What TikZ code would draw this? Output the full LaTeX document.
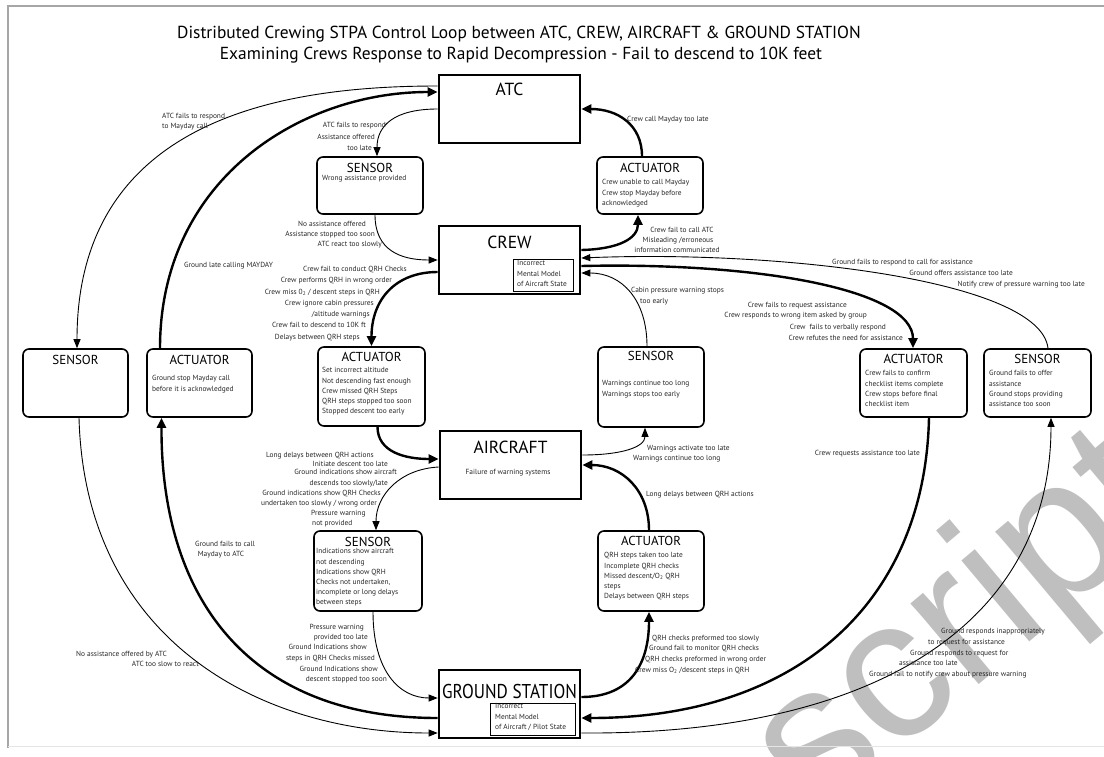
\documentclass[tikz,border=0pt]{standalone}
\usepackage{fontspec}
\usepackage{graphicx}
\setmainfont{PT Sans}
\newfontfamily\wmfont{Liberation Sans}
\usetikzlibrary{arrows.meta,calc}
\newcommand\lab[5]{\node[lbl,anchor=#2] (#1) at (#3,{#4+3}) {#5};}
\tikzset{
  mainbox/.style={draw, line width=2.6pt, minimum width=141pt, minimum height=68pt, inner sep=0pt},
  smallbox/.style={draw, line width=1.6pt, rounded corners=6pt, inner sep=0pt},
  mmbox/.style={draw, line width=0.9pt, inner sep=0pt},
  lbl/.style={font=\fontsize{7.4}{9}\selectfont, text=black!85, inner sep=0pt},
  body/.style={font=\fontsize{7.4}{10.2}\selectfont, text=black!85, align=left, anchor=north west, inner sep=0pt},
  btitle/.style={font=\fontsize{13}{15}\selectfont, anchor=base, inner sep=0pt},
  mtitle/.style={font=\fontsize{17.5}{20}\selectfont, anchor=base, inner sep=0pt},
  titlef/.style={font=\fontsize{17.4}{20}\selectfont, inner sep=0pt},
  thk/.style={line width=2.4pt, -{Triangle[length=10pt,width=9pt]}},
  thn/.style={line width=0.9pt, -{Triangle[length=9pt,width=7pt]}},
  wm/.style={font=\wmfont\fontsize{200}{200}\selectfont, text=gray!50, inner sep=0pt}
}
\begin{document}
\begin{tikzpicture}[x=1pt,y=-1pt]
\useasboundingbox (0,0) rectangle (1104,756);
% watermark
\begin{scope}
\clip (0,0) rectangle (1104,756);
\node[wm, rotate=40, anchor=base west] (wm) at (815,822) {script};
\end{scope}
% frame
\draw[gray!70, line width=2pt] (8,748) -- (8,6) -- (1104,6);
\draw[gray!20, line width=0.8pt] (8,746) -- (1104,746);
% titles
\node[titlef] (t1) at (519,34) {Distributed Crewing STPA Control Loop between ATC, CREW, AIRCRAFT \& GROUND STATION};
\node[titlef] (t2) at (521,55) {Examining Crews Response to Rapid Decompression - Fail to descend to 10K feet};
% main boxes
\node[mainbox] (atc) at (509.5,109) {};
\node[mtitle] (atcT) at (509.5,95) {ATC};
\node[mainbox] (crew) at (509.5,260) {};
\node[mtitle] (crewT) at (509.5,248) {CREW};
\node[mmbox, minimum width=60pt, minimum height=32pt] (crewMM) at (543,275) {};
\node[body] (crewMMt) at (517,260.5) {Incorrect\\Mental Model\\of Aircraft State};
\node[mainbox] (aircraft) at (510.5,465) {};
\node[mtitle] (aircraftT) at (510.5,453) {AIRCRAFT};
\node[lbl, anchor=base] (aircraftB) at (508,474) {Failure of warning systems};
\node[mainbox] (gs) at (509.5,704) {};
\node[mtitle, font=\fontsize{20}{22}\selectfont] (gsT) at (509.5,698) {\scalebox{0.86}[1]{GROUND STATION}};
\node[mmbox, minimum width=85pt, minimum height=32pt] (gsMM) at (532.5,719) {};
\node[body] (gsMMt) at (495,703.5) {Incorrect\\Mental Model\\of Aircraft / Pilot State};
% small boxes
\node[smallbox, minimum width=106pt, minimum height=57pt] (sensA) at (370,185.5) {};
\node[btitle] (sensAT) at (370,172.5) {SENSOR};
\node[body] (sensAB) at (322,175.5) {Wrong assistance provided};
\node[smallbox, minimum width=106pt, minimum height=57pt] (actA) at (650,185.5) {};
\node[btitle] (actAT) at (650,172.5) {ACTUATOR};
\node[body] (actAB) at (602,179.5) {Crew unable to call Mayday\\Crew stop Mayday before\\acknowledged};
\node[smallbox, minimum width=105pt, minimum height=68pt] (sensL) at (75.5,383) {};
\node[btitle] (sensLT) at (75.5,364.5) {SENSOR};
\node[smallbox, minimum width=105pt, minimum height=68pt] (actL) at (199.5,383) {};
\node[btitle] (actLT) at (199.5,364.5) {ACTUATOR};
\node[body] (actLB) at (152,375.5) {Ground stop Mayday call\\before it is acknowledged};
\node[smallbox, minimum width=107pt, minimum height=79pt] (actB) at (371.5,386.5) {};
\node[btitle] (actBT) at (371.5,361.5) {ACTUATOR};
\node[body] (actBB) at (322,367.5) {Set incorrect altitude\\Not descending fast enough\\Crew missed QRH Steps\\QRH steps stopped too soon\\Stopped descent too early};
\node[smallbox, minimum width=106pt, minimum height=80pt] (sensB) at (651,387) {};
\node[btitle] (sensBT) at (651,360.5) {SENSOR};
\node[body] (sensBB) at (602,380.5) {Warnings continue too long\\Warnings stops too early};
\node[smallbox, minimum width=107pt, minimum height=68pt] (actR) at (913.5,383) {};
\node[btitle] (actRT) at (913.5,363.5) {ACTUATOR};
\node[body] (actRB) at (865,370.5) {Crew fails to confirm\\checklist items complete\\Crew stops before final\\checklist item};
\node[smallbox, minimum width=107pt, minimum height=68pt] (sensR) at (1037.5,383) {};
\node[btitle] (sensRT) at (1037.5,363.5) {SENSOR};
\node[body] (sensRB) at (989,370.5) {Ground fails to offer\\assistance\\Ground stops providing\\assistance too soon};
\node[smallbox, minimum width=108pt, minimum height=80pt] (sensC) at (368,571) {};
\node[btitle] (sensCT) at (368,546.5) {SENSOR};
\node[body] (sensCB) at (316,548.5) {Indications show aircraft\\not descending\\Indications show QRH\\Checks not undertaken,\\incomplete or long delays\\between steps};
\node[smallbox, minimum width=106pt, minimum height=80pt] (actC) at (651,571) {};
\node[btitle] (actCT) at (651,545.5) {ACTUATOR};
\node[body] (actCB) at (604,552.5) {QRH steps taken too late\\Incomplete QRH checks\\Missed descent/O\textsubscript{2} QRH\\steps\\Delays between QRH steps};
% connectors
\draw[thn] (atc.west) .. controls (395,109) and (377,125) .. ([xshift=7pt]sensA.north);
\draw[thn] ([xshift=5pt]sensA.south) .. controls (375,250) and (400,260) .. (crew.west);
\draw[thk] ([yshift=10pt]crew.east) .. controls (620,249) and (638,238) .. ([xshift=-12pt]actA.south);
\draw[thk] ([xshift=-8pt]actA.north) .. controls (642,125) and (618,109) .. (atc.east);
\draw[thn] ([yshift=23pt]atc.west) .. controls (290,86) and (77,115) .. ([xshift=1.5pt]sensL.north);
\draw[thk] ([xshift=-39.5pt]actL.north) .. controls (160,180) and (300,92) .. ([yshift=17pt]atc.west);
\draw[thn] ([xshift=3.5pt]sensL.south) .. controls (85,640) and (260,733) .. ([yshift=-29pt]gs.west);
\draw[thk] ([yshift=-14pt]gs.west) .. controls (250,718) and (161,600) .. ([xshift=-38pt]actL.south);
\draw[thk] ([yshift=-12pt]crew.west) .. controls (395,272) and (371.5,300) .. (actB.north);
\draw[thk] ([xshift=6pt]actB.south) .. controls (377.5,452) and (405,459) .. ([yshift=6pt]aircraft.west);
\draw[thn] ([yshift=-2pt]aircraft.west) .. controls (400,469) and (376,495) .. ([xshift=8pt]sensC.north);
\draw[thn] ([xshift=5pt]sensC.south) .. controls (373,672) and (400,698) .. ([yshift=6pt]gs.west);
\draw[thk] ([yshift=7pt]gs.east) .. controls (632,697) and (649,662) .. ([xshift=-2pt]actC.south);
\draw[thk] ([xshift=-2pt]actC.north) .. controls (649,490) and (622,465) .. (aircraft.east);
\draw[thn] ([yshift=10pt]aircraft.east) .. controls (622,455) and (645,447) .. ([xshift=-6pt]sensB.south);
\draw[thn] ([xshift=-4pt]sensB.north) .. controls (647,300) and (622,273) .. ([yshift=-13pt]crew.east);
\draw[thk] ([yshift=-6pt]crew.east) .. controls (760,262) and (913,290) .. ([xshift=-0.5pt]actR.north);
\draw[thn] ([xshift=10.5pt]sensR.north) .. controls (1040,280) and (780,250) .. ([yshift=2pt]crew.east);
\draw[thk] ([xshift=15.5pt]actR.south) .. controls (925,600) and (800,718) .. ([yshift=-14pt]gs.east);
\draw[thn] ([yshift=-29pt]gs.east) .. controls (880,735) and (1051,620) .. ([xshift=13.5pt]sensR.south);
% labels
\lab{l1a}{base east}{386}{124}{ATC fails to respond}
\lab{l1b}{base east}{375}{136}{Assistance offered}
\lab{l1c}{base east}{372}{147}{too late}
\lab{l2a}{base east}{366}{223}{No assistance offered}
\lab{l2b}{base east}{375}{233}{Assistance stopped too soon}
\lab{l2c}{base east}{382}{243}{ATC react too slowly}
\lab{l3a}{base}{682}{229}{Crew fail to call ATC}
\lab{l3b}{base}{678}{239}{Misleading /erroneous}
\lab{l3c}{base}{677}{249}{information communicated}
\lab{l4}{base west}{627}{118}{Crew call Mayday too late}
\lab{l5a}{base west}{162}{115}{ATC fails to respond}
\lab{l5b}{base west}{162}{125}{to Mayday call}
\lab{l6}{base west}{184}{264}{Ground late calling MAYDAY}
\lab{l7a}{base west}{76}{653}{No assistance offered by ATC}
\lab{l7b}{base east}{199}{663}{ATC too slow to react}
\lab{l8a}{base}{225}{543}{Ground fails to call}
\lab{l8b}{base}{221}{553}{Mayday to ATC}
\lab{l9a}{base east}{407}{268}{Crew fail to conduct QRH Checks}
\lab{l9b}{base east}{392}{279}{Crew performs QRH in wrong order}
\lab{l9c}{base east}{380}{291}{Crew miss 0\textsubscript{2} / descent steps in QRH}
\lab{l9d}{base east}{374}{302}{Crew ignore cabin pressures}
\lab{l9e}{base east}{370}{313}{/altitude warnings}
\lab{l9f}{base east}{366}{324}{Crew fail to descend to 10K ft}
\lab{l9g}{base east}{360}{336}{Delays between QRH steps}
\lab{l10a}{base east}{374}{454}{Long delays between QRH actions}
\lab{l10b}{base east}{388}{463}{Initiate descent too late}
\lab{l11a}{base east}{397}{471}{Ground indications show aircraft}
\lab{l11b}{base east}{388}{482}{descends too slowly/late}
\lab{l11c}{base east}{381}{492}{Ground indications show QRH Checks}
\lab{l11d}{base east}{377}{502}{undertaken too slowly / wrong order}
\lab{l11e}{base west}{311}{512}{Pressure warning}
\lab{l11f}{base west}{312}{522}{not provided}
\lab{l12a}{base east}{364}{626}{Pressure warning}
\lab{l12b}{base east}{368}{636}{provided too late}
\lab{l12c}{base east}{367}{646}{Ground Indications show}
\lab{l12d}{base east}{375}{657}{steps in QRH Checks missed}
\lab{l12e}{base east}{378}{668}{Ground Indications show}
\lab{l12f}{base east}{387}{678}{descent stopped too soon}
\lab{l13a}{base west}{652}{637}{QRH checks preformed too slowly}
\lab{l13b}{base west}{649}{647}{Ground fail to monitor QRH checks}
\lab{l13c}{base west}{645}{658}{QRH checks preformed in wrong order}
\lab{l13d}{base west}{635}{669}{Crew miss O\textsubscript{2} /descent steps in QRH}
\lab{l14}{base west}{646}{493}{Long delays between QRH actions}
\lab{l15a}{base west}{647}{447}{Warnings activate too late}
\lab{l15b}{base west}{633}{457}{Warnings continue too long}
\lab{l16a}{base west}{631}{289}{Cabin pressure warning stops}
\lab{l16b}{base west}{640}{300}{too early}
\lab{l17a}{base east}{847}{304}{Crew fails to request assistance}
\lab{l17b}{base east}{867}{314}{Crew responds to wrong item asked by group}
\lab{l17c}{base east}{886}{326}{Crew\ \ fails to verbally respond}
\lab{l17d}{base east}{903}{337}{Crew refutes the need for assistance}
\lab{l18a}{base east}{973}{261}{Ground fails to respond to call for assistance}
\lab{l18b}{base east}{1013}{272}{Ground offers assistance too late}
\lab{l18c}{base east}{1085}{283}{Notify crew of pressure warning too late}
\lab{l19}{base east}{920}{452}{Crew requests assistance too late}
\lab{l20a}{base west}{941}{630}{Ground responds inappropriately}
\lab{l20b}{base west}{928}{641}{to request for assistance}
\lab{l20c}{base west}{910}{652}{Ground responds to request for}
\lab{l20d}{base west}{899}{662}{assistance too late}
\lab{l20e}{base west}{869}{673}{Ground fail to notify crew about pressure warning}
\end{tikzpicture}
\end{document}
